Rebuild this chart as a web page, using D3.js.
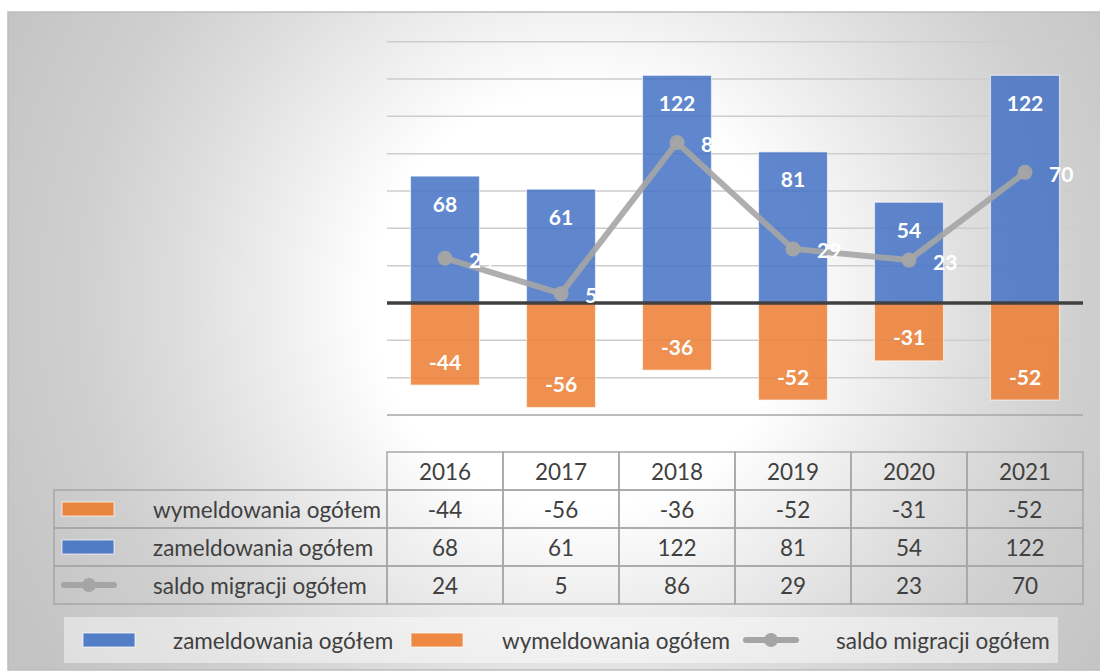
<!DOCTYPE html>
<html>
<head>
<meta charset="utf-8">
<script src="https://cdn.jsdelivr.net/npm/d3@7"></script>
<style>
  body { margin: 0; background: #fff; }
  svg { display: block; font-family: Lato, "Open Sans", sans-serif; }
</style>
</head>
<body>
<svg id="chart" width="1100" height="671"></svg>
<script>
const years = ["2016", "2017", "2018", "2019", "2020", "2021"];
const wymeldowania = [-44, -56, -36, -52, -31, -52];
const zameldowania = [68, 61, 122, 81, 54, 122];
const saldo = [24, 5, 86, 29, 23, 70];
const yTicks = [-60, -40, -20, 0, 20, 40, 60, 80, 100, 120, 140];

const seriesNames = {
  wym: "wymeldowania ogółem",
  zam: "zameldowania ogółem",
  saldo: "saldo migracji ogółem"
};

const blue = "#4472C4";
const orange = "#ED7D31";
const grey = "#A5A5A5";
const textColor = "#404040";
const textSize = "22.5px";

const svg = d3.select("#chart");

// background of the chart area (white glow, grey edges)
const defs = svg.append("defs");
const grad = defs.append("radialGradient")
  .attr("id", "bg")
  .attr("gradientUnits", "userSpaceOnUse")
  .attr("cx", 580)
  .attr("cy", 300)
  .attr("r", 650);
[
  [0, "#ffffff"],
  [0.32, "#ffffff"],
  [0.45, "#f0f0f0"],
  [0.62, "#dddddd"],
  [0.77, "#cfcfcf"],
  [1, "#c3c3c3"]
].forEach(s => {
  grad.append("stop").attr("offset", s[0]).attr("stop-color", s[1]);
});

svg.append("rect")
  .attr("x", 8)
  .attr("y", 12)
  .attr("width", 1100)
  .attr("height", 658)
  .attr("fill", "url(#bg)")
  .attr("stroke", "#bdbdbd")
  .attr("stroke-width", 1.5);

const x = d3.scaleBand()
  .domain(years)
  .range([387, 1083])
  .paddingInner(0.405)
  .paddingOuter(0.2025);

const y = d3.scaleLinear()
  .domain([-60, 140])
  .range([415, 41.7]);

// gridlines
svg.append("g")
  .selectAll("line")
  .data(yTicks.filter(d => d !== 0))
  .enter()
  .append("line")
  .attr("x1", 387)
  .attr("x2", 1083)
  .attr("y1", d => y(d))
  .attr("y2", d => y(d))
  .attr("stroke", d => d === -60 ? "#a6a6a6" : "#cdcdcd")
  .attr("stroke-width", 1.5);

// bars
const rows = years.map((yr, i) => ({
  year: yr,
  wym: wymeldowania[i],
  zam: zameldowania[i],
  saldo: saldo[i]
}));

svg.append("g")
  .selectAll("rect")
  .data(rows)
  .enter()
  .append("rect")
  .attr("x", d => x(d.year))
  .attr("y", d => y(d.zam))
  .attr("width", x.bandwidth())
  .attr("height", d => y(0) - y(d.zam))
  .attr("fill", blue)
  .attr("fill-opacity", 0.85)
  .attr("stroke", "#ffffff")
  .attr("stroke-opacity", 0.6)
  .attr("stroke-width", 1.2);

svg.append("g")
  .selectAll("rect")
  .data(rows)
  .enter()
  .append("rect")
  .attr("x", d => x(d.year))
  .attr("y", y(0))
  .attr("width", x.bandwidth())
  .attr("height", d => y(d.wym) - y(0))
  .attr("fill", orange)
  .attr("fill-opacity", 0.85)
  .attr("stroke", "#ffffff")
  .attr("stroke-opacity", 0.6)
  .attr("stroke-width", 1.2);

// zero line
svg.append("line")
  .attr("x1", 387)
  .attr("x2", 1083)
  .attr("y1", y(0))
  .attr("y2", y(0))
  .attr("stroke", "#404040")
  .attr("stroke-width", 3.5);

// bar labels
svg.append("g")
  .selectAll("text")
  .data(rows)
  .enter()
  .append("text")
  .attr("x", d => x(d.year) + x.bandwidth() / 2)
  .attr("y", d => y(d.zam) + 27)
  .attr("text-anchor", "middle")
  .attr("dominant-baseline", "central")
  .attr("fill", "white")
  .attr("font-size", "21px")
  .attr("font-weight", "bold")
  .text(d => d.zam);

svg.append("g")
  .selectAll("text")
  .data(rows)
  .enter()
  .append("text")
  .attr("x", d => x(d.year) + x.bandwidth() / 2)
  .attr("y", d => y(d.wym) - 24)
  .attr("text-anchor", "middle")
  .attr("dominant-baseline", "central")
  .attr("fill", "white")
  .attr("font-size", "21px")
  .attr("font-weight", "bold")
  .text(d => d.wym);

// saldo line
const line = d3.line()
  .x(d => x(d.year) + x.bandwidth() / 2)
  .y(d => y(d.saldo));

svg.append("path")
  .attr("d", line(rows))
  .attr("fill", "none")
  .attr("stroke", grey)
  .attr("stroke-opacity", 0.9)
  .attr("stroke-width", 6)
  .attr("stroke-linecap", "round")
  .attr("stroke-linejoin", "round");

svg.append("g")
  .selectAll("circle")
  .data(rows)
  .enter()
  .append("circle")
  .attr("cx", d => x(d.year) + x.bandwidth() / 2)
  .attr("cy", d => y(d.saldo))
  .attr("r", 7.5)
  .attr("fill", grey)
  .attr("fill-opacity", 0.95);

svg.append("g")
  .selectAll("text")
  .data(rows)
  .enter()
  .append("text")
  .attr("x", d => x(d.year) + x.bandwidth() / 2 + 24)
  .attr("y", d => y(d.saldo) + 1)
  .attr("dominant-baseline", "central")
  .attr("fill", "white")
  .attr("font-size", "21px")
  .attr("font-weight", "bold")
  .text(d => d.saldo);

// data table
const tableTop = 452;
const rowH = 38;
const tableLeft = 54;
const tableStroke = "#a6a6a6";
const table = svg.append("g");

// header cells
table.selectAll(".head-cell")
  .data(years)
  .enter()
  .append("rect")
  .attr("x", d => x(d) - x.step() * x.paddingInner() / 2)
  .attr("y", tableTop)
  .attr("width", x.step())
  .attr("height", rowH)
  .attr("fill", "none")
  .attr("stroke", tableStroke)
  .attr("stroke-width", 1.5);

table.selectAll(".head-text")
  .data(years)
  .enter()
  .append("text")
  .attr("x", d => x(d) + x.bandwidth() / 2)
  .attr("y", tableTop + rowH / 2)
  .attr("text-anchor", "middle")
  .attr("dominant-baseline", "central")
  .attr("fill", textColor)
  .attr("font-size", textSize)
  .text(d => d);

const tableRows = [
  { key: "wym", values: wymeldowania, type: "bar", color: orange },
  { key: "zam", values: zameldowania, type: "bar", color: blue },
  { key: "saldo", values: saldo, type: "line", color: grey }
];

tableRows.forEach((r, ri) => {
  const top = tableTop + rowH * (ri + 1);
  const mid = top + rowH / 2;

  table.append("rect")
    .attr("x", tableLeft)
    .attr("y", top)
    .attr("width", 387 - tableLeft)
    .attr("height", rowH)
    .attr("fill", "none")
    .attr("stroke", tableStroke)
    .attr("stroke-width", 1.5);

  table.selectAll(".cell-" + r.key)
    .data(years)
    .enter()
    .append("rect")
    .attr("x", d => x(d) - x.step() * x.paddingInner() / 2)
    .attr("y", top)
    .attr("width", x.step())
    .attr("height", rowH)
    .attr("fill", "none")
    .attr("stroke", tableStroke)
    .attr("stroke-width", 1.5);

  table.selectAll(".val-" + r.key)
    .data(r.values)
    .enter()
    .append("text")
    .attr("x", (d, i) => x(years[i]) + x.bandwidth() / 2)
    .attr("y", mid)
    .attr("text-anchor", "middle")
    .attr("dominant-baseline", "central")
    .attr("fill", textColor)
    .attr("font-size", textSize)
    .text(d => d);

  drawKey(table, r, 62, mid);

  table.append("text")
    .attr("x", 153)
    .attr("y", mid)
    .attr("dominant-baseline", "central")
    .attr("fill", textColor)
    .attr("font-size", textSize)
    .text(seriesNames[r.key]);
});

function drawKey(g, r, left, mid) {
  if (r.type === "bar") {
    g.append("rect")
      .attr("x", left)
      .attr("y", mid - 7)
      .attr("width", 52)
      .attr("height", 14)
      .attr("fill", r.color)
      .attr("fill-opacity", 0.9)
      .attr("stroke", "#ffffff")
      .attr("stroke-opacity", 0.6)
      .attr("stroke-width", 1.2);
  } else {
    g.append("line")
      .attr("x1", left + 2)
      .attr("x2", left + 52)
      .attr("y1", mid)
      .attr("y2", mid)
      .attr("stroke", r.color)
      .attr("stroke-width", 6)
      .attr("stroke-linecap", "round");
    g.append("circle")
      .attr("cx", left + 27)
      .attr("cy", mid)
      .attr("r", 7)
      .attr("fill", r.color);
  }
}

// legend
svg.append("rect")
  .attr("x", 64)
  .attr("y", 617)
  .attr("width", 994)
  .attr("height", 46)
  .attr("fill", "#ffffff")
  .attr("fill-opacity", 0.45);

const legendItems = [
  { key: "zam", type: "bar", color: blue, keyX: 83, textX: 173 },
  { key: "wym", type: "bar", color: orange, keyX: 411, textX: 502 },
  { key: "saldo", type: "line", color: grey, keyX: 744, textX: 836 }
];

legendItems.forEach(item => {
  drawKey(svg, item, item.keyX, 640);
  svg.append("text")
    .attr("x", item.textX)
    .attr("y", 640)
    .attr("dominant-baseline", "central")
    .attr("fill", textColor)
    .attr("font-size", textSize)
    .text(seriesNames[item.key]);
});
</script>
</body>
</html>
